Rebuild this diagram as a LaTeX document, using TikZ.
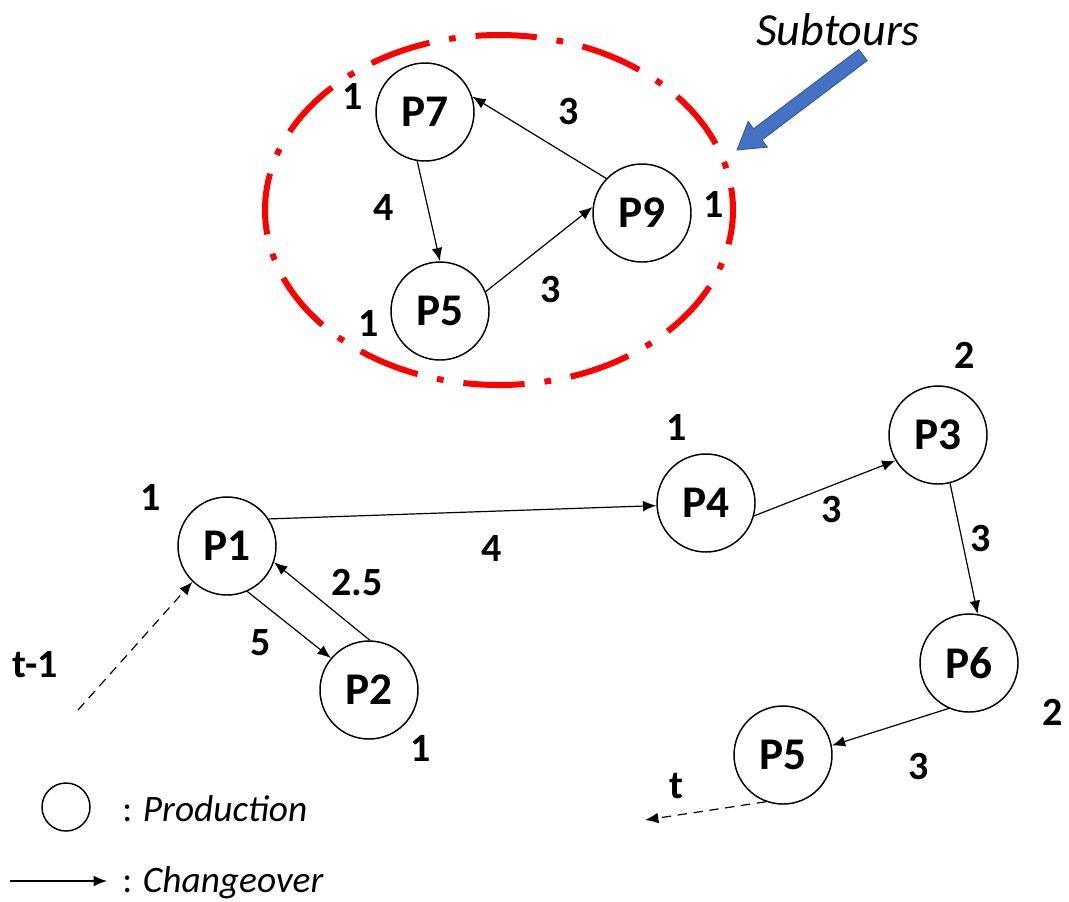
\documentclass[tikz,border=0pt]{standalone}
\usepackage{fontspec}
\setmainfont{Carlito}
\usetikzlibrary{arrows.meta,calc}

\definecolor{tourred}{RGB}{255,0,0}
\definecolor{callblue}{RGB}{68,114,196}
\definecolor{calledge}{RGB}{47,82,143}

\tikzset{
  prod/.style={circle,draw=black,line width=1.1pt,minimum size=73.5pt,inner sep=0pt,
               font=\fontsize{34}{34}\selectfont\bfseries},
  chg/.style={-{Latex[length=10pt,width=8pt]},line width=0.9pt},
  carry/.style={chg,dashed,dash pattern=on 7pt off 5pt},
  wt/.style={font=\fontsize{30}{30}\selectfont\bfseries,inner sep=0pt},
  legendtext/.style={font=\fontsize{28}{28}\selectfont\itshape,inner sep=0pt,anchor=base west}
}

\begin{document}
\begin{tikzpicture}[x=0.75pt,y=-0.75pt]
\useasboundingbox (0,0) rectangle (1069,901);

% subtour P7 -> P5 -> P9 -> P7
\draw[tourred,line width=4.5pt,dash pattern=on 46pt off 15pt on 5pt off 15pt,dash phase=20pt]
  (499,210) ellipse [x radius=234, y radius=175];
\node[prod] (p7) at (425,112) {P7};
\node[prod] (p9) at (642,213) {P9};
\node[prod] (p5a) at (440,311) {P5};
\draw[chg] (p7.-99) -- (p5a.90);
\draw[chg] (p5a.23) -- (p9.173);
\draw[chg] (p9.136) -- (p7.18);
\node[wt] at (353,97) {1};
\node[wt] at (569,112) {3};
\node[wt] at (384,208) {4};
\node[wt] at (714,205) {1};
\node[wt] at (551,290) {3};
\node[wt] at (369,323) {1};

% callout
\node[font=\fontsize{34.5}{34.5}\selectfont\itshape,inner sep=0pt] (sub) at (838,30) {Subtours};
\coordinate (st) at (863,55);
\coordinate (sh) at (737,150);
\coordinate (hb) at ($(sh)!19.5pt!(st)$);
\filldraw[fill=callblue,draw=calledge,line width=0.6pt,line join=miter]
  ($(st)!5.25pt!90:(sh)$) -- ($(hb)!5.25pt!-90:(st)$) -- ($(hb)!12pt!-90:(st)$) -- (sh)
  -- ($(hb)!12pt!90:(st)$) -- ($(hb)!5.25pt!90:(st)$) -- ($(st)!5.25pt!-90:(sh)$) -- cycle;

% main sequence
\node[prod] (p1) at (227,546) {P1};
\node[prod] (p2) at (369,690) {P2};
\node[prod] (p4) at (706,503) {P4};
\node[prod] (p3) at (938,435) {P3};
\node[prod] (p6) at (969,663) {P6};
\node[prod] (p5) at (783,755) {P5};
\coordinate (prev) at (78,710);
\coordinate (next) at (645,820);

\draw[carry] (prev) -- (p1.226);
\draw[chg] (p1.-66) -- (p2.140);
\draw[chg] (p2.89) -- (p1.-19);
\draw[chg] (p1.33) -- (p4.183);
\draw[chg] (p4.-15) -- (p3.211);
\draw[chg] (p3.-76) -- (p6.80);
\draw[chg] (p6.-114) -- (p5.11);
\draw[carry] (p5.-110) -- (next);

\node[wt] at (151,497) {1};
\node[wt] at (492,549) {4};
\node[wt] at (357,583) {2.5};
\node[wt] at (261,643) {5};
\node[wt] at (35,665) {t-1};
\node[wt] at (421,748) {1};
\node[wt] at (677,427) {1};
\node[wt] at (832,510) {3};
\node[wt] at (965,355) {2};
\node[wt] at (981,539) {3};
\node[wt] at (1053,712) {2};
\node[wt] at (919,766) {3};
\node[wt] at (676,786) {t};

% legend
\node[circle,draw=black,line width=1.1pt,minimum size=36pt,inner sep=0pt] (lc) at (66,807) {};
\node[legendtext] (lp) at (122,821) {{\upshape:}\hspace{8pt}Production};
\coordinate (la) at (10,881);
\coordinate (lb) at (107,881);
\draw[chg] (la) -- (lb);
\node[legendtext] (lq) at (122,892) {{\upshape:}\hspace{8pt}Changeover};
\end{tikzpicture}
\end{document}
